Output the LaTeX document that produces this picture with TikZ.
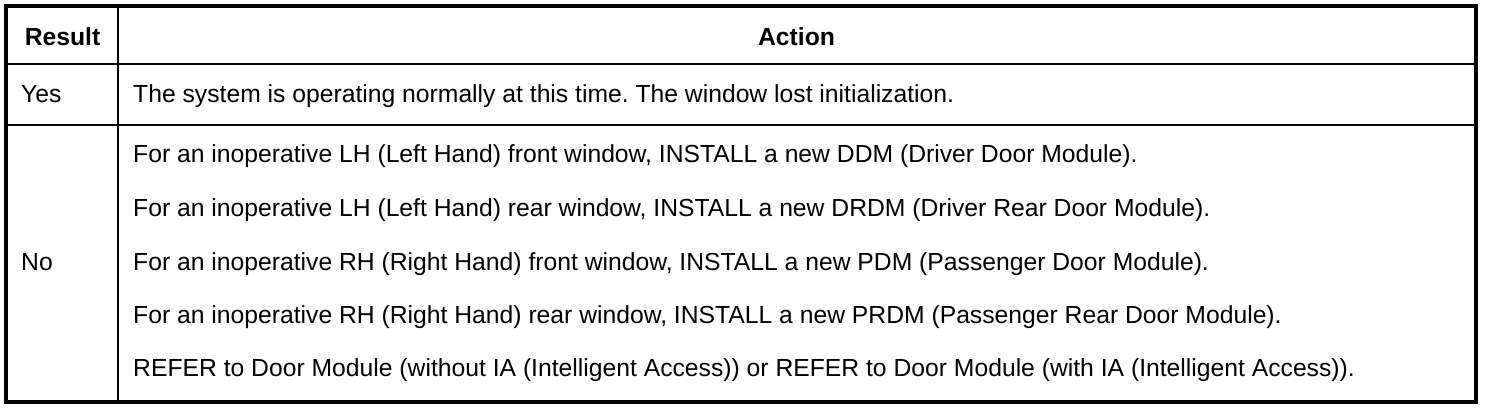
\documentclass[tikz,border=0pt]{standalone}
\usepackage{fontspec}
\setmainfont{Liberation Sans}
\frenchspacing
\begin{document}
\begin{tikzpicture}[x=1pt,y=-1pt,
  cell/.style={anchor=base west,inner sep=0pt,font=\fontsize{24.7}{29}\selectfont},
  head/.style={anchor=base,inner sep=0pt,font=\fontsize{24.7}{29}\selectfont\bfseries},
  outer/.style={line width=4pt},
  inner/.style={line width=2pt}]
\useasboundingbox (0,0) rectangle (1504,410);
\fill[white] (0,0) rectangle (1504,410);
% grid
\draw[outer] (6,6) rectangle (1475.5,402);
\draw[inner] (8,64) -- (1473.5,64);
\draw[inner] (8,124.5) -- (1473.5,124.5);
\draw[inner] (117.5,8) -- (117.5,400);
% header
\node[head] (hres) at (62.5,45.7) {Result};
\node[head] (hact) at (796.5,45.7) {Action};
% yes row
\node[cell] (yes) at (21,102.3) {Yes};
\node[cell] (yesa) at (133,102.3) {The system is operating normally at this time. The window lost initialization.};
% no row
\node[cell] (no) at (21,270) {No};
\node[cell] (n1) at (133,162.7) {For an inoperative LH (Left Hand) front window, INSTALL a new DDM (Driver Door Module).};
\node[cell] (n2) at (133,216.7) {For an inoperative LH (Left Hand) rear window, INSTALL a new DRDM (Driver Rear Door Module).};
\node[cell] (n3) at (133,270) {For an inoperative RH (Right Hand) front window, INSTALL a new PDM (Passenger Door Module).};
\node[cell] (n4) at (133,323) {For an inoperative RH (Right Hand) rear window, INSTALL a new PRDM (Passenger Rear Door Module).};
\node[cell] (n5) at (133,376.7) {REFER to Door Module (without IA (Intelligent Access)) or REFER to Door Module (with IA (Intelligent Access)).};
\end{tikzpicture}
\end{document}
